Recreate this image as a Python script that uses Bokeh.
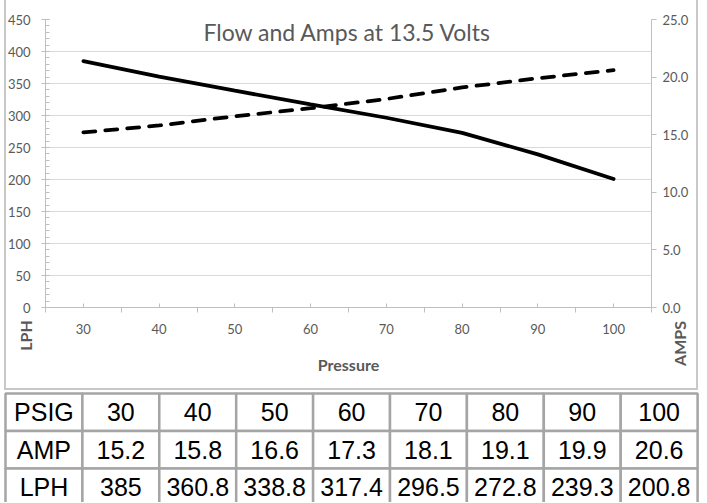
from bokeh.plotting import figure
from bokeh.models import Range1d, LinearAxis, FixedTicker, PrintfTickFormatter, Label, ColumnDataSource
from bokeh.layouts import column
from bokeh.core.properties import value
from bokeh.embed import file_html
from bokeh.resources import INLINE

# ---- data ----
psig = [30, 40, 50, 60, 70, 80, 90, 100]
amp = [15.2, 15.8, 16.6, 17.3, 18.1, 19.1, 19.9, 20.6]
lph = [385, 360.8, 338.8, 317.4, 296.5, 272.8, 239.3, 200.8]
left_ticks = list(range(0, 451, 50))
left_minor = list(range(0, 451, 10))
right_ticks = [0, 5, 10, 15, 20, 25]
x_labels = [30, 40, 50, 60, 70, 80, 90, 100]
x_minor = [25, 35, 45, 55, 65, 75, 85, 95, 105]
title_text = "Flow and Amps at 13.5 Volts"
row_names = ["PSIG", "AMP", "LPH"]
left_title = "LPH"
right_title = "AMPS"

GREY_TXT = "#595959"
AXIS_C = "#bfbfbf"
GRID_C = "#d9d9d9"
FONT = "Lato"

# ---- chart (page x 4..698, y 0..390) ----
p = figure(width=694, height=390, output_backend="svg", toolbar_location=None,
           x_range=Range1d(25, 105), y_range=Range1d(0, 450),
           min_border_left=41, min_border_right=47, min_border_top=19,
           min_border_bottom=83)
p.extra_y_ranges = {"amps": Range1d(0, 25)}
p.outline_line_color = None
p.border_fill_color = None
p.background_fill_color = "white"
p.styles = {"margin-left": "4px",
            "box-shadow": "inset 2px 0 0 #c8c8c8, inset -2px 0 0 #c8c8c8, inset 0 -2px 0 #c8c8c8"}

p.line(psig, lph, line_color="black", line_width=3.75, line_cap="round")
p.line(psig, amp, y_range_name="amps", line_color="black", line_width=3.75,
       line_dash="12 10", line_cap="round")

xa = p.xaxis[0]
xa.ticker = FixedTicker(ticks=x_labels, minor_ticks=x_minor)
xa.axis_line_color = AXIS_C
xa.major_tick_line_color = AXIS_C
xa.minor_tick_line_color = AXIS_C
xa.major_tick_in = 4
xa.major_tick_out = 0
xa.minor_tick_in = 0
xa.minor_tick_out = 5
xa.major_label_standoff = 11
xa.major_label_text_font = FONT
xa.major_label_text_font_size = "13px"
xa.major_label_text_color = GREY_TXT
xa.axis_label = "Pressure"
xa.axis_label_text_font = FONT
xa.axis_label_text_font_style = "bold"
xa.axis_label_text_font_size = "16px"
xa.axis_label_text_color = GREY_TXT
xa.axis_label_standoff = 18

ya = p.yaxis[0]
ya.ticker = FixedTicker(ticks=left_ticks, minor_ticks=left_minor)
ya.axis_line_color = AXIS_C
ya.major_tick_line_color = AXIS_C
ya.minor_tick_line_color = AXIS_C
ya.major_tick_in = 4
ya.major_tick_out = 4
ya.minor_tick_in = 4
ya.minor_tick_out = 0
ya.major_label_standoff = 11
ya.major_label_text_font = FONT
ya.major_label_text_font_size = "13px"
ya.major_label_text_color = GREY_TXT

ra = LinearAxis(y_range_name="amps", ticker=FixedTicker(ticks=right_ticks),
                formatter=PrintfTickFormatter(format="%.1f"))
ra.axis_line_color = AXIS_C
ra.major_tick_line_color = AXIS_C
ra.minor_tick_line_color = None
ra.major_tick_in = 0
ra.major_tick_out = 5
ra.major_label_standoff = 6
ra.major_label_text_font = FONT
ra.major_label_text_font_size = "13px"
ra.major_label_text_color = GREY_TXT
p.add_layout(ra, "right")

p.xgrid.grid_line_color = None
p.ygrid.ticker = FixedTicker(ticks=left_ticks)
p.ygrid.grid_line_color = GRID_C
p.ygrid.grid_line_width = 1

p.add_layout(Label(x=64.9, y=431, text=title_text, text_align="center",
                   text_baseline="middle", text_font=FONT, text_font_size="23px",
                   text_color=GREY_TXT))

# ---- table + side axis titles (overlay figure in page-pixel units) ----
TOP = 310
BOTTOM = 502
t = figure(width=707, height=BOTTOM - TOP, output_backend="svg", toolbar_location=None,
           x_range=Range1d(0, 707), y_range=Range1d(BOTTOM, TOP),
           x_axis_location=None, y_axis_location=None,
           min_border=0, min_border_left=0, min_border_right=0,
           min_border_top=0, min_border_bottom=0)
t.grid.visible = False
t.outline_line_color = None
t.border_fill_color = None
t.background_fill_color = None
t.styles = {"margin-top": f"-{390 - TOP}px"}
for fig in (p, t):
    try:
        fig.frame_align = False
    except Exception:
        pass

rows = [
    [row_names[0]] + [str(v) for v in psig],
    [row_names[1]] + [f"{v:g}" for v in amp],
    [row_names[2]] + [f"{v:g}" for v in lph],
]
tab_left, col_w = 5, 76.9
tab_top, row_h = 393, 37.5
cx, cy, ct = [], [], []
for r, cells in enumerate(rows):
    for c, txt in enumerate(cells):
        cx.append(tab_left + (c + 0.5) * col_w)
        cy.append(tab_top + (r + 0.5) * row_h)
        ct.append(txt)
src = ColumnDataSource(dict(x=cx, y=cy, t=ct))
t.rect(x="x", y="y", width=col_w, height=row_h, source=src, fill_color="white",
       line_color="#a5a5a5", line_width=2.5)
t.text(x="x", y="y", text="t", source=src, text_align="center",
       text_baseline="middle", text_font=value("Liberation Sans"),
       text_font_size="25px", text_color="black")

t.text(x=[25], y=[335], text=[left_title], angle=1.5708, text_align="center",
       text_baseline="middle", text_font=value(FONT), text_font_style="bold",
       text_font_size="16px", text_color=GREY_TXT)
t.text(x=[679], y=[343], text=[right_title], angle=1.5708, text_align="center",
       text_baseline="middle", text_font=value(FONT), text_font_style="bold",
       text_font_size="16px", text_color=GREY_TXT)

layout = column(p, t, spacing=0)
open("out.html", "w").write(file_html(layout, INLINE))
